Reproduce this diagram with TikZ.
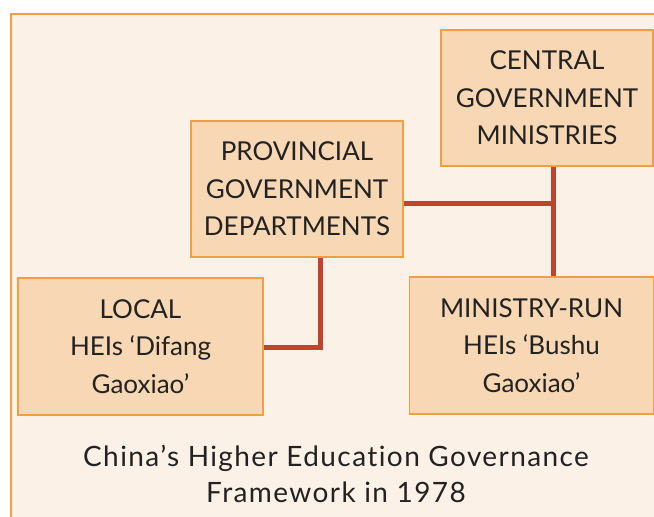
\documentclass[tikz,border=0pt]{standalone}
\usepackage{fontspec}
\setmainfont[Ligatures=NoCommon]{Lato}
\newfontfamily\capfont[Ligatures=NoCommon, LetterSpace=5]{Lato}
\definecolor{bgc}{HTML}{FCF1E7}
\definecolor{boxc}{HTML}{F8D8B4}
\definecolor{edgec}{HTML}{F0A040}
\definecolor{linkc}{HTML}{C0432F}
\definecolor{txtc}{HTML}{222222}
\tikzset{
  unit/.style={draw=edgec, line width=1.2pt, fill=boxc, align=center, text=txtc,
    font=\fontsize{26}{37.5}\selectfont, inner sep=0pt},
  link/.style={draw=linkc, line width=5pt}
}
\begin{document}
\begin{tikzpicture}[x=1pt,y=-1pt]
\useasboundingbox (0,0) rectangle (654,517);
\fill[bgc] (10,13) rectangle (654,517);
\draw[edgec, line width=2pt] (11,517) -- (11,14) -- (654,14);
\node[unit, minimum width=212pt, minimum height=136pt] (cen) at (547,98) {CENTRAL\\GOVERNMENT\\MINISTRIES};
\node[unit, minimum width=212pt, minimum height=136pt] (prov) at (297,189) {PROVINCIAL\\GOVERNMENT\\DEPARTMENTS};
\node[unit, minimum width=245pt, minimum height=137pt] (loc) at (140.5,346.5) {LOCAL\\HEIs ‘Difang\\Gaoxiao’};
\node[unit, minimum width=244pt, minimum height=137pt] (min) at (531.5,345.5) {MINISTRY-RUN\\HEIs ‘Bushu\\Gaoxiao’};
\coordinate (j) at (553,203);
\coordinate (k) at (320,347);
\draw[link] (prov.east |- j) -- (j);
\draw[link] (cen.south -| j) -- (min.north -| j);
\draw[link, line join=miter] (prov.south -| k) -- (k) -- (loc.east |- k);
\node[align=center, text=txtc, font=\capfont\fontsize{28}{36}\selectfont, inner sep=0pt] (cap) at (336,474) {China’s Higher Education Governance\\Framework in 1978};
\end{tikzpicture}
\end{document}
